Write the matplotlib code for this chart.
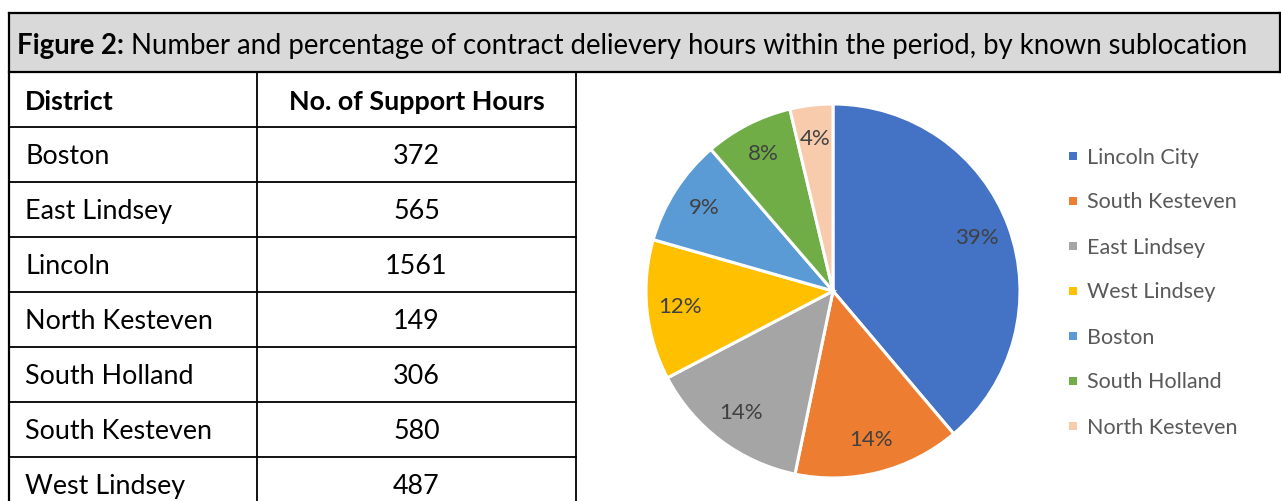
import matplotlib.pyplot as plt
from matplotlib.patches import Rectangle

plt.rcParams['font.family'] = ['Lato', 'DejaVu Sans']

# table data
districts = ["Boston", "East Lindsey", "Lincoln", "North Kesteven",
             "South Holland", "South Kesteven", "West Lindsey"]
support_hours = [372, 565, 1561, 149, 306, 580, 487]

# pie data
pie_labels = ["Lincoln City", "South Kesteven", "East Lindsey", "West Lindsey",
              "Boston", "South Holland", "North Kesteven"]
pie_hours = [1561, 580, 565, 487, 372, 306, 149]
pie_colors = ["#4472C4", "#ED7D31", "#A5A5A5", "#FFC000",
              "#5B9BD5", "#70AD47", "#F8CBAD"]

title_bold = "Figure 2:"
title_rest = " Number and percentage of contract delievery hours within the period, by known sublocation"

W, H = 1281, 501
fig = plt.figure(figsize=(W / 100, H / 100), dpi=100)

# layout axes in pixel units
bg = fig.add_axes([0, 0, 1, 1])
bg.set_xlim(0, W)
bg.set_ylim(H, 0)
bg.axis("off")

# title bar
bg.add_patch(Rectangle((9, 13), W - 9, 59, facecolor="#D9D9D9", edgecolor="none"))
bg.plot([9, W], [13, 13], color="black", lw=1.6)
bg.plot([9, W], [72, 72], color="black", lw=1.6)
bg.plot([9, 9], [13, H], color="black", lw=1.6)
bg.plot([W - 1, W - 1], [13, 72], color="black", lw=1.6)

t1 = bg.text(17, 46, title_bold, fontsize=19.8, fontweight="bold", va="center", ha="left")
fig.canvas.draw()
bb = t1.get_window_extent()
x_end = bb.x1
bg.text(x_end, H - 46, title_rest, fontsize=19.8, va="center", ha="left",
        transform=None)

# table
row_h = 55
top = 72
col_x = [9, 257, 576]
n_rows = len(districts) + 1
for i in range(n_rows + 1):
    y = top + i * row_h
    bg.plot([col_x[0], col_x[2]], [y, y], color="black", lw=1.3)
for x in col_x:
    bg.plot([x, x], [top, H], color="black", lw=1.3)

fs = 19.4
dy = 2
bg.text(25, top + row_h / 2 + dy, "District", fontsize=fs, fontweight="bold", va="center")
bg.text((col_x[1] + col_x[2]) / 2, top + row_h / 2 + dy, "No. of Support Hours",
        fontsize=fs, fontweight="bold", va="center", ha="center")
for i, (d, h) in enumerate(zip(districts, support_hours)):
    yc = top + (i + 1.5) * row_h + dy
    bg.text(25, yc, d, fontsize=fs, va="center")
    bg.text((col_x[1] + col_x[2]) / 2, yc, str(h), fontsize=fs, va="center", ha="center")

# pie
cx, cy, r = 833, 291, 187
size = 420
ax = fig.add_axes([(cx - size / 2) / W, (H - cy - size / 2) / H, size / W, size / H])
rad = r / (size / 2)
wedges, texts, autotexts = ax.pie(
    pie_hours, colors=pie_colors, startangle=90, counterclock=False,
    radius=rad, autopct="%1.0f%%", pctdistance=0.82,
    wedgeprops=dict(edgecolor="white", linewidth=2.2),
    textprops=dict(color="#404040", fontsize=16),
)
ax.set_xlim(-1, 1)
ax.set_ylim(-1, 1)
ax.set_aspect("equal")
ax.axis("off")

# legend
leg_x, leg_y0, leg_dy = 1073, 156, 45
for i, (lab, c) in enumerate(zip(pie_labels, pie_colors)):
    y = leg_y0 + i * leg_dy
    bg.add_patch(Rectangle((leg_x - 4, y - 4), 8, 8, facecolor=c, edgecolor="none"))
    bg.text(leg_x + 14, y + 1.5, lab, fontsize=15.5, color="#595959", va="center", ha="left")

fig.savefig("out.png", dpi=100)
